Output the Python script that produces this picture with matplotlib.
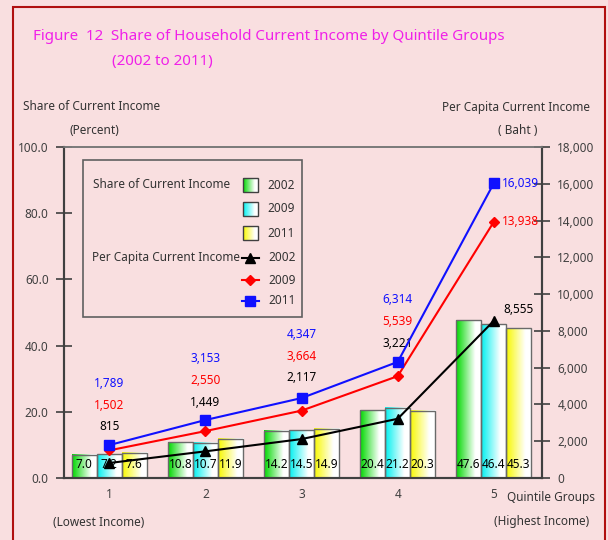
import numpy as np
import matplotlib
matplotlib.use("Agg")
import matplotlib.pyplot as plt
from matplotlib.patches import Rectangle
from matplotlib.lines import Line2D
from matplotlib.colors import to_rgb

plt.rcParams['font.family'] = ['Noto Sans', 'DejaVu Sans']

# data
quintiles = [1, 2, 3, 4, 5]
years = ['2002', '2009', '2011']
share_2002 = [7.0, 10.8, 14.2, 20.4, 47.6]
share_2009 = [7.2, 10.7, 14.5, 21.2, 46.4]
share_2011 = [7.6, 11.9, 14.9, 20.3, 45.3]
baht_2002 = [815, 1449, 2117, 3221, 8555]
baht_2009 = [1502, 2550, 3664, 5539, 13938]
baht_2011 = [1789, 3153, 4347, 6314, 16039]

bg = '#f9dfe0'
bar_cols = ['#00d800', '#00f0f0', '#f8f800']
line_cols = ['black', '#ff0000', '#1010ff']
markers = ['^', 'D', 's']
msizes = [6.5, 5, 6.5]

fig = plt.figure(figsize=(6.08, 5.40), dpi=100, facecolor=bg)
fig.patches.append(Rectangle((13 / 608, -0.01), 592 / 608, 1 - 7 / 540 + 0.01,
                             transform=fig.transFigure, fill=False,
                             edgecolor='#b01010', lw=1.5))

ax = fig.add_axes([64 / 608, (540 - 478) / 540, 478 / 608, 331 / 540])
ax.set_facecolor(bg)
ax2 = ax.twinx()

x = np.array(quintiles, dtype=float)
w = 0.26


def grad_img(col):
    c = np.array(to_rgb(col))
    t = np.clip(np.linspace(0, 1, 64) / 0.75, 0, 1)
    img = c[None, :] * (1 - t[:, None]) + np.ones(3)[None, :] * t[:, None]
    return img[None, :, :]


for k, vals in enumerate([share_2002, share_2009, share_2011]):
    bars = ax.bar(x + (k - 1) * w, vals, w, facecolor='none',
                  edgecolor='#6a6a6a', lw=1.0, zorder=3)
    for b, v in zip(bars, vals):
        x0, wb, h = b.get_x(), b.get_width(), b.get_height()
        ax.imshow(grad_img(bar_cols[k]), extent=(x0, x0 + wb, 0, h),
                  aspect='auto', zorder=2, interpolation='bilinear')
        ax.text(x0 + wb / 2, 4.0, f'{v:.1f}', ha='center', va='center',
                fontsize=8.5, color='black', zorder=4)

ax.set_xlim(0.53, 5.5)
ax.set_ylim(0, 100)
ax.set_yticks(np.arange(0, 101, 20))
ax.set_yticklabels([f'{v:.1f}' for v in np.arange(0, 101, 20)])
ax.set_xticks(quintiles)
ax.tick_params(axis='x', length=0, pad=7, labelsize=8.5, colors='#404040')
ax.tick_params(axis='y', direction='inout', length=12, width=1.2,
               labelsize=8.5, colors='#404040', pad=5)

for k, vals in enumerate([baht_2002, baht_2009, baht_2011]):
    ax2.plot(x, vals, color=line_cols[k], lw=1.5, marker=markers[k],
             ms=msizes[k], zorder=5)
ax2.set_ylim(0, 18000)
ax2.set_yticks(np.arange(0, 18001, 2000))
ax2.set_yticklabels([f'{v:,}' for v in np.arange(0, 18001, 2000)])
ax2.tick_params(axis='y', direction='inout', length=12, width=1.2,
                labelsize=8.5, colors='#404040', pad=5)

for a in (ax, ax2):
    a.spines['left'].set_color('#404040')
    a.spines['left'].set_linewidth(1.5)
    a.spines['right'].set_color('#404040')
    a.spines['right'].set_linewidth(1.5)
    a.spines['bottom'].set_color('#404040')
    a.spines['bottom'].set_linewidth(1.5)
    a.spines['top'].set_color('#7a7a7a')
    a.spines['top'].set_linewidth(1.2)

# value labels for per-capita income (stacked above each group)
black_rows = [2780, 4130, 5440, 7340]
step = 1180
for i in range(4):
    for k, vals in enumerate([baht_2002, baht_2009, baht_2011]):
        ax2.text(x[i], black_rows[i] + k * step, f'{vals[i]:,}', ha='center',
                 va='center', fontsize=8.5, color=line_cols[k])
ax2.annotate(f'{baht_2002[4]:,}', (x[4], baht_2002[4]), xytext=(18, 8),
             textcoords='offset points', ha='center', va='center',
             fontsize=8.5, color=line_cols[0])
for k, vals in [(1, baht_2009), (2, baht_2011)]:
    ax2.annotate(f'{vals[4]:,}', (x[4], vals[4]), xytext=(6, 0),
                 textcoords='offset points', ha='left', va='center',
                 fontsize=8.5, color=line_cols[k])

# legend box
ax2.add_patch(Rectangle((0.040, 0.486), 0.458, 0.475, transform=ax2.transAxes,
                        fill=False, edgecolor='#606060', lw=1.2, zorder=6))
tk = dict(transform=ax2.transAxes, fontsize=8.5, color='#333333', va='center')
ax2.text(0.061, 0.888, 'Share of Current Income', **tk)
ax2.text(0.059, 0.665, 'Per Capita Current Income', **tk)
rows_bar = [0.885, 0.813, 0.740]
rows_line = [0.665, 0.598, 0.535]
for k in range(3):
    y = rows_bar[k]
    ax2.imshow(grad_img(bar_cols[k]), extent=(0.374, 0.406, y - 0.021, y + 0.021),
               transform=ax2.transAxes, aspect='auto', zorder=6)
    ax2.add_patch(Rectangle((0.374, y - 0.021), 0.032, 0.042, transform=ax2.transAxes,
                            fill=False, edgecolor='#404040', lw=1.0, zorder=7))
    ax2.text(0.425, y, years[k], **tk)
    y = rows_line[k]
    ax2.add_line(Line2D([0.372, 0.408], [y, y], transform=ax2.transAxes,
                        color=line_cols[k], lw=1.5, zorder=7))
    ax2.plot([0.39], [y], transform=ax2.transAxes, color=line_cols[k],
             marker=markers[k], ms=msizes[k], zorder=8)
    ax2.text(0.427, y, years[k], **tk)
ax2.set_xlim(0.53, 5.5)
ax2.set_ylim(0, 18000)

# titles and axis captions
mag = '#f020e8'
fig.text(33 / 608, 1 - 37 / 540, 'Figure  12  Share of Household Current Income by Quintile Groups',
         fontsize=10.9, color=mag, va='center')
fig.text(112 / 608, 1 - 61 / 540, '(2002 to 2011)', fontsize=10.9, color=mag, va='center')
cap = dict(fontsize=8.5, color='#333333', va='center')
fig.text(23 / 608, 1 - 107 / 540, 'Share of Current Income', **cap)
fig.text(70 / 608, 1 - 130 / 540, '(Percent)', **cap)
fig.text(590 / 608, 1 - 107 / 540, 'Per Capita Current Income', ha='right', **cap)
fig.text(537 / 608, 1 - 130 / 540, '( Baht )', ha='right', **cap)
fig.text(595 / 608, 1 - 497 / 540, 'Quintile Groups', ha='right', **cap)
fig.text(53 / 608, 1 - 522 / 540, '(Lowest Income)', **cap)
fig.text(589 / 608, 1 - 522 / 540, '(Highest Income)', ha='right', **cap)

fig.savefig('out.png', dpi=100, facecolor=bg)
